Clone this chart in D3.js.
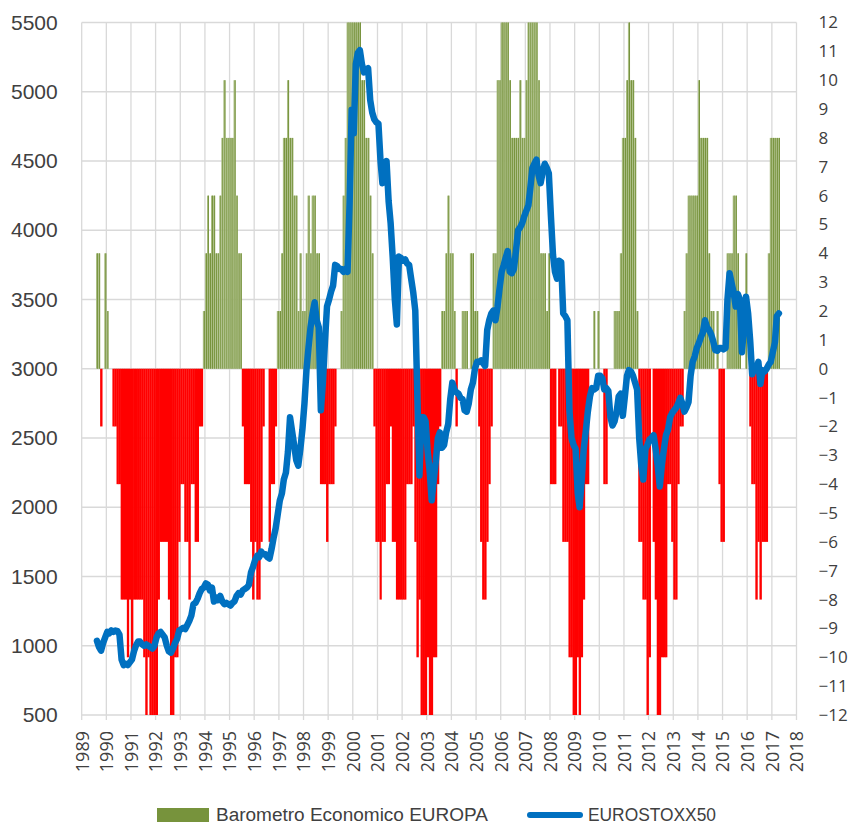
<!DOCTYPE html>
<html>
<head>
<meta charset="utf-8">
<script src="https://cdn.jsdelivr.net/npm/d3@7/dist/d3.min.js"></script>
<style>
  body { margin: 0; background: #fff; }
</style>
</head>
<body>
<div id="chart"></div>
<script>
const width = 850
const height = 824

// primo mese della serie (agosto 1989), mensile
const startYear = 1989
const startMonth = 7

// Barometro Economico EUROPA (asse destro)
const barometro = [
  4, 4, -2, 0, 4,
  2, 0, 0, -2, -2, -4, -4, -8, -8, -8, -10, -8,
  -10, -8, -8, -8, -8, -8, -10, -12, -10, -12, -12, -12,
  -12, -8, -6, -6, -6, -6, -8, -12, -12, -10, -10, -6,
  -4, -4, -6, -6, -8, -4, -4, -6, -6, -2, -2, 2,
  4, 6, 4, 6, 6, 4, 4, 6, 8, 10, 8, 8,
  8, 8, 10, 6, 4, 4, -2, -4, -4, -4, -6, -8,
  -6, -8, -8, -6, -2, 0, 0, -6, -4, -4, -2, 2,
  2, 4, 8, 8, 10, 8, 8, 6, 6, 2, 4, 2,
  2, 4, 6, 4, 6, 6, 4, 4, -4, -4, -4, -6,
  -4, -4, -4, -2, 0, 0, 2, 6, 8, 12, 12, 12,
  12, 12, 12, 12, 10, 10, 8, 8, 6, 4, -2, -6,
  -6, -8, -6, -6, -4, -4, -2, -6, -6, -8, -8, -8,
  -8, -8, -4, -4, -4, -2, -6, -10, -8, -12, -12, -12,
  -10, -12, -12, -10, -10, -4, -2, 2, 2, 4, 6, 4,
  4, 2, -2, 0, 0, 2, 2, 2, 0, 4, 4, 2,
  2, -2, -6, -8, -8, -6, -4, -2, 4, 4, 10, 10,
  12, 12, 12, 12, 10, 8, 8, 8, 8, 10, 8, 8,
  10, 12, 12, 12, 12, 12, 10, 4, 4, 4, 2, 4,
  -4, -4, -4, 0, -2, -2, -6, -6, -6, -10, -10, -12,
  -12, -10, -12, -10, -8, -4, -4, 0, 0, 2, 0, 2,
  0, 0, -4, -4, 0, 0, 0, 2, 2, 2, 4, 8,
  8, 10, 12, 10, 10, 8, 2, -6, -6, -8, -8, -12,
  -10, 0, -6, -8, -12, -12, -10, -10, -10, -4, -4, -6,
  -8, -8, -4, -2, -2, 2, 4, 6, 6, 6, 6, 6,
  10, 8, 8, 8, 8, 4, 2, 2, 0, 2, -4, -6,
  -6, 0, 4, 4, 4, 6, 6, 4, 2, 0, 0, 4,
  0, -2, -4, -4, -8, -6, -8, -6, -6, -6, 4, 8,
  8, 8, 8, 8
]

// EUROSTOXX50 (asse sinistro)
const eurostoxx = [
  1035, 990, 965, 1020, 1060,
  1100, 1090, 1110, 1100, 1110, 1105, 1080, 900, 860, 870, 860, 880,
  900, 960, 1000, 1030, 1030, 1010, 1000, 1010, 1000, 990, 980, 1000,
  1060, 1090, 1100, 1080, 1060, 1000, 960, 950, 980, 1020, 1050, 1110,
  1120, 1130, 1120, 1150, 1180, 1220, 1300, 1310, 1340, 1380, 1410, 1420,
  1450, 1440, 1400, 1420, 1320, 1350, 1330, 1360, 1320, 1300, 1310, 1300,
  1290, 1310, 1320, 1360, 1380, 1370, 1400, 1410, 1420, 1440, 1530, 1570,
  1620, 1650, 1640, 1680, 1660, 1660, 1640, 1630, 1700, 1780, 1850, 1950,
  2050, 2100, 2200, 2250, 2400, 2650, 2550, 2450, 2340, 2300, 2420, 2560,
  2750, 3000, 3150, 3300, 3400, 3480, 3350, 3300, 2700, 2900, 3200, 3450,
  3500, 3560, 3600, 3750, 3740, 3720, 3720, 3700, 3720, 3700, 4200, 4870,
  4700, 5200, 5280, 5300, 5200, 5140, 5160, 5170, 4940, 4850, 4800, 4780,
  4770, 4500, 4340, 4450, 4500, 4210, 4050, 3800, 3500, 3320, 3810, 3800,
  3780, 3790, 3760, 3750, 3650, 3550, 3420, 2800, 2230, 2650, 2650, 2620,
  2400, 2250, 2050, 2200, 2330, 2500, 2540, 2430, 2450, 2540, 2600, 2780,
  2900, 2850, 2830, 2820, 2790, 2780, 2700, 2690, 2750, 2850, 2900, 3000,
  3050, 3050, 3060, 3040, 3020, 3280, 3350, 3400, 3420, 3350, 3450, 3580,
  3700, 3750, 3800, 3850, 3700, 3690, 3720, 3850, 4000, 4020, 4050, 4100,
  4140, 4180, 4300, 4450, 4480, 4510, 4400, 4340, 4420, 4480, 4450, 4410,
  4100, 3820, 3700, 3650, 3780, 3770, 3400, 3380, 3350, 2700, 2500, 2450,
  2420, 2100, 2000, 2200, 2420, 2550, 2690, 2800, 2860, 2850, 2860, 2950,
  2950, 2930, 2850, 2860, 2840, 2650, 2590, 2620, 2690, 2800, 2820, 2660,
  2800, 2950, 2990, 2980, 2950, 2900, 2850, 2500, 2300, 2200, 2420, 2450,
  2490, 2500, 2520, 2420, 2300, 2150, 2300, 2420, 2520, 2560, 2650, 2680,
  2700, 2720, 2750, 2790, 2750, 2690, 2720, 2760, 2950, 3050, 3090, 3150,
  3185, 3230, 3260, 3350, 3300, 3280, 3250, 3200, 3135, 3130, 3150, 3150,
  3140, 3150, 3500, 3690, 3620, 3550, 3450, 3540, 3500, 3120, 3300, 3520,
  3400, 3200, 2960, 3000, 2990, 3050, 2890, 2990, 2980, 3000, 3030, 3050,
  3120, 3190, 3380, 3400
]

const leftTicks = d3.range(500, 5501, 500)
const rightTicks = d3.range(-12, 13, 1)
const years = d3.range(1989, 2019)
const legendLabels = ["Barometro Economico EUROPA", "EUROSTOXX50"]

// Container
const svg = d3.select("#chart").append("svg")
  .attr("width", width)
  .attr("height", height)

const plot = { left: 81.7, right: 796.5, top: 22.5, bottom: 715 }

// Scale
const x = d3.scaleTime()
  .domain([new Date(1989, 0, 1), new Date(2018, 0, 1)])
  .range([plot.left, plot.right])
const yL = d3.scaleLinear().domain([500, 5500]).range([plot.bottom, plot.top])
const yR = d3.scaleLinear().domain([-12, 12]).range([plot.bottom, plot.top]).clamp(true)

// Griglia
svg.append("g").selectAll("line").data(leftTicks).enter().append("line")
  .attr("x1", plot.left).attr("x2", plot.right)
  .attr("y1", d => yL(d)).attr("y2", d => yL(d))
  .attr("stroke", "#D9D9D9").attr("stroke-width", 1.3)

svg.append("g").selectAll("line").data(years).enter().append("line")
  .attr("x1", d => x(new Date(d, 0, 1))).attr("x2", d => x(new Date(d, 0, 1)))
  .attr("y1", plot.top).attr("y2", plot.bottom + 5)
  .attr("stroke", "#D9D9D9").attr("stroke-width", 1.3)

// Barre mensili
const months = barometro.map((v, i) => ({
  start: new Date(startYear, startMonth + i, 1),
  end: new Date(startYear, startMonth + i + 1, 1),
  value: v
}))

const bars = svg.append("g")
months.filter(d => d.value < 0).forEach(d => {
  bars.append("rect")
    .attr("x", x(d.start))
    .attr("width", x(d.end) - x(d.start) + 0.3)
    .attr("y", yR(0))
    .attr("height", yR(d.value) - yR(0))
    .attr("fill", "#FF0000")
})
months.filter(d => d.value > 0).forEach(d => {
  const w = x(d.end) - x(d.start)
  bars.append("rect")
    .attr("x", x(d.start))
    .attr("width", w)
    .attr("y", yR(d.value))
    .attr("height", yR(0) - yR(d.value))
    .attr("fill", "#AABD84")
  bars.append("rect")
    .attr("x", x(d.start) + w - 1)
    .attr("width", 1)
    .attr("y", yR(d.value))
    .attr("height", yR(0) - yR(d.value))
    .attr("fill", "#77933C")
})

// Linea EUROSTOXX50
const line = d3.line()
  .x((d, i) => x(new Date(startYear, startMonth + i, 15)))
  .y(d => yL(d))

svg.append("path")
  .datum(eurostoxx)
  .attr("d", line)
  .attr("fill", "none")
  .attr("stroke", "#0070C0")
  .attr("stroke-width", 6.5)
  .attr("stroke-linejoin", "round")
  .attr("stroke-linecap", "round")

// Assi
const axL = svg.append("g")
  .attr("transform", `translate(${plot.left},0)`)
  .call(d3.axisLeft(yL).tickValues(leftTicks).tickSize(0).tickPadding(24).tickFormat(d3.format("d")))
axL.select(".domain").remove()
axL.selectAll("text")
  .attr("font-family", "Liberation Sans, Arial, sans-serif")
  .attr("font-size", 21).attr("fill", "#404040")

const axR = svg.append("g")
  .attr("transform", `translate(${plot.right},0)`)
  .call(d3.axisRight(yR).tickValues(rightTicks).tickSize(0).tickPadding(22))
axR.select(".domain").remove()
axR.selectAll("text")
  .attr("font-family", "Open Sans, sans-serif")
  .attr("font-size", 17).attr("fill", "#404040")

const axB = svg.append("g")
  .attr("transform", `translate(0,${plot.bottom})`)
  .call(d3.axisBottom(x).tickValues(years.map(y => new Date(y, 0, 1))).tickSize(0).tickFormat(d3.timeFormat("%Y")))
axB.select(".domain").remove()
axB.selectAll("text")
  .attr("font-family", "Open Sans, sans-serif")
  .attr("font-size", 18).attr("fill", "#404040")
  .attr("transform", "rotate(-90)")
  .attr("text-anchor", "end")
  .attr("x", -16).attr("y", 0).attr("dy", "0.35em")

// Legenda
const leg = svg.append("g").attr("font-family", "Liberation Sans, Arial, sans-serif").attr("font-size", 18).attr("fill", "#404040")
leg.append("rect").attr("x", 157).attr("y", 808).attr("width", 52).attr("height", 14).attr("fill", "#77933C")
leg.append("text").attr("x", 216).attr("y", 821).text(legendLabels[0])
  .attr("textLength", 272).attr("lengthAdjust", "spacingAndGlyphs")
leg.append("line").attr("x1", 530).attr("x2", 580).attr("y1", 815).attr("y2", 815)
  .attr("stroke", "#0070C0").attr("stroke-width", 6).attr("stroke-linecap", "round")
leg.append("text").attr("x", 588).attr("y", 821).text(legendLabels[1])
  .attr("textLength", 128).attr("lengthAdjust", "spacingAndGlyphs")
</script>
</body>
</html>
